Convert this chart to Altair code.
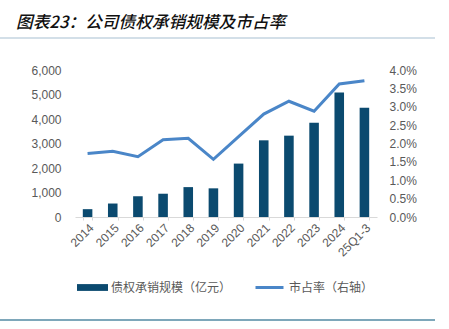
import altair as alt
import pandas as pd

years = ["2014", "2015", "2016", "2017", "2018", "2019", "2020", "2021", "2022", "2023", "2024", "25Q1-3"]
scale_values = [320, 550, 850, 950, 1220, 1170, 2180, 3130, 3320, 3850, 5080, 4460]
share_values = [0.0173, 0.0179, 0.0164, 0.0210, 0.0214, 0.0157, 0.0219, 0.0280, 0.0315, 0.0288, 0.0362, 0.0371]
bar_name = "债权承销规模（亿元）"
line_name = "市占率（右轴）"
title_text = "图表23：公司债权承销规模及市占率"

FONT = "Noto Sans CJK SC"
NUM_FONT = "Liberation Sans"
BAR_COLOR = "#0b4a6f"
LINE_COLOR = "#4a86c8"

df = pd.DataFrame({
    "year": years,
    "scale": scale_values,
    "share": share_values,
    "bar_series": [bar_name] * len(years),
    "line_series": [line_name] * len(years),
})

x_enc = alt.X(
    "year:N", sort=years, title=None,
    scale=alt.Scale(paddingInner=0.62, paddingOuter=0.31),
    axis=alt.Axis(
        labelAngle=-45, labelFont=NUM_FONT, labelFontSize=12, labelColor="#595959",
        domainColor="#d9d9d9", tickColor="#d9d9d9", tickSize=3, tickBand="extent",
        labelPadding=2,
    ),
)

bars = alt.Chart(df).mark_bar(color=BAR_COLOR).encode(
    x=x_enc,
    y=alt.Y(
        "scale:Q", title=None,
        scale=alt.Scale(domain=[0, 6000]),
        axis=alt.Axis(
            orient="left", values=[0, 1000, 2000, 3000, 4000, 5000, 6000], format=",.0f",
            domain=False, ticks=False, grid=False, labelFont=NUM_FONT,
            labelFontSize=12, labelColor="#595959", labelPadding=14,
        ),
    ),
    color=alt.Color(
        "bar_series:N", title=None,
        scale=alt.Scale(domain=[bar_name], range=[BAR_COLOR]),
        legend=alt.Legend(
            orient="none", legendX=2, legendY=202, symbolType="M-1,-0.22L1,-0.22L1,0.22L-1,0.22Z",
            symbolSize=961, symbolStrokeWidth=0, labelFont=FONT, labelFontSize=12,
            labelColor="#595959", labelOffset=3, padding=0,
        ),
    ),
)

line = alt.Chart(df).mark_line(strokeWidth=3, color=LINE_COLOR).encode(
    x=alt.X("year:N", sort=years),
    y=alt.Y(
        "share:Q", title=None,
        scale=alt.Scale(domain=[0, 0.04]),
        axis=alt.Axis(
            orient="right", values=[0, 0.005, 0.01, 0.015, 0.02, 0.025, 0.03, 0.035, 0.04],
            format=".1%", domain=False, ticks=False, grid=False, labelFont=NUM_FONT,
            labelFontSize=12, labelColor="#595959", labelPadding=12,
        ),
    ),
    stroke=alt.Stroke(
        "line_series:N", title=None,
        scale=alt.Scale(domain=[line_name], range=[LINE_COLOR]),
        legend=alt.Legend(
            orient="none", legendX=179, legendY=202, symbolType="stroke",
            symbolSize=784, symbolStrokeWidth=3, labelFont=FONT, labelFontSize=12,
            labelColor="#595959", labelOffset=4, padding=0,
        ),
    ),
)

title = alt.Chart(pd.DataFrame({"t": [title_text]})).mark_text(
    font=FONT, fontSize=16.7, fontStyle="italic", fontWeight=500,
    align="left", baseline="alphabetic", color="#111111",
).encode(text="t:N", x=alt.value(-59), y=alt.value(-42))

top_rule = alt.Chart(pd.DataFrame({"k": ["top"]})).mark_rule(color="#c5d5e0", strokeWidth=1.5).encode(
    x=alt.value(-75), x2=alt.value(360), y=alt.value(-32)
)
bottom_rule = alt.Chart(pd.DataFrame({"k": ["bottom"]})).mark_rule(color="#7ea7ba", strokeWidth=2).encode(
    x=alt.value(-75), x2=alt.value(360), y=alt.value(250)
)

chart = alt.layer(bars, line, title, top_rule, bottom_rule).resolve_scale(
    y="independent", color="independent"
).properties(
    width=302, height=147,
    autosize=alt.AutoSizeParams(type="none"),
    padding={"left": 75, "top": 70, "right": 72, "bottom": 112},
    background="white",
).configure_view(stroke=None)

chart.save("out.html", embed_options={"renderer": "svg", "actions": False})
